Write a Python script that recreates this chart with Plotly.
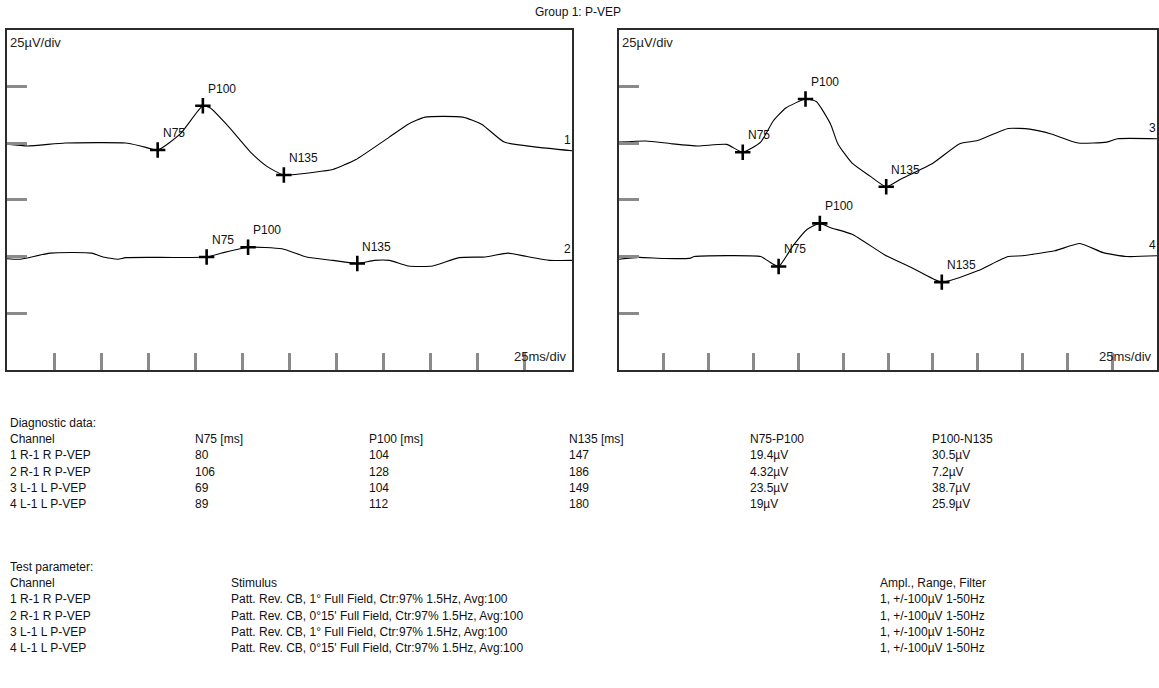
import numpy as np
import plotly.graph_objects as go

# ---------------- data ----------------
# waveform samples: time [ms], amplitude [uV] relative to channel baseline
ch1_t = [0, 11, 31, 63, 71, 80, 92, 104, 108, 118, 130, 138, 147, 163, 173, 185, 203, 213, 222, 242, 252, 264, 280, 300]
ch1_v = [-0.5, -1.3, 0, 0, -1.3, -3.1, 4, 16.4, 15.4, 6.9, -4.6, -10.3, -14.1, -12.9, -11.7, -7.4, 2.6, 8.3, 11.4, 11.4, 8.3, 0.4, -1.7, -3.4]

ch2_t = [0, 7, 23, 45, 51, 59, 63, 106, 114, 128, 146, 159, 173, 186, 195, 203, 213, 226, 240, 254, 266, 276, 288, 300]
ch2_v = [-1, -1.2, 1.5, 1.5, -0.2, -1.2, -0.5, -0.2, 1.5, 4.1, 3.4, -0.2, -1.7, -3.1, -1.7, -1.7, -4.2, -4.2, -0.5, -0.2, 1.5, 0, -1.7, -1.7]

ch3_t = [0, 15, 29, 44, 60, 69, 79, 86, 93, 104, 110, 118, 122, 130, 140, 149, 157, 175, 190, 200, 217, 229, 241, 256, 272, 278, 300]
ch3_v = [0.4, 0.9, -0.3, -1.3, -0.6, -4.1, 0.4, 9.7, 15.4, 19.4, 18.3, 8.3, -0.3, -8.9, -14.6, -19.3, -16, -8.9, -0.3, 1.1, 6.4, 6.1, 4, 0, 0.4, 1.9, 1.9]

ch4_t = [0, 11, 25, 40, 42, 79, 83, 89, 97, 105, 112, 118, 130, 149, 163, 180, 200, 217, 225, 243, 257, 270, 283, 300]
ch4_v = [-1.2, -0.4, -0.9, -0.7, 0, 0, -1.9, -4.4, 4.7, 12, 14.6, 12.7, 9.8, 0.3, -4.8, -11.3, -6.3, 0, 0.3, 2.5, 5.7, 1.7, 0, 0.3]

# diagnostic table
channels = ["1 R-1 R P-VEP", "2 R-1 R P-VEP", "3 L-1 L P-VEP", "4 L-1 L P-VEP"]
n75_ms = [80, 106, 69, 89]
p100_ms = [104, 128, 104, 112]
n135_ms = [147, 186, 149, 180]
n75_p100 = ["19.4µV", "4.32µV", "23.5µV", "19µV"]
p100_n135 = ["30.5µV", "7.2µV", "38.7µV", "25.9µV"]
diag_headers = ["Channel", "N75 [ms]", "P100 [ms]", "N135 [ms]", "N75-P100", "P100-N135"]

# test parameters
stimulus = [
    "Patt. Rev. CB, 1° Full Field, Ctr:97% 1.5Hz, Avg:100",
    "Patt. Rev. CB, 0°15' Full Field, Ctr:97% 1.5Hz, Avg:100",
    "Patt. Rev. CB, 1° Full Field, Ctr:97% 1.5Hz, Avg:100",
    "Patt. Rev. CB, 0°15' Full Field, Ctr:97% 1.5Hz, Avg:100",
]
ampl = ["1, +/-100µV 1-50Hz"] * 4
test_headers = ["Channel", "Stimulus", "Ampl., Range, Filter"]

peak_names = ["N75", "P100", "N135"]
x_ticks = [25 * i for i in range(1, 13)]
y_ticks = [25, 50, 75, 100, 125]

# ---------------- layout helpers ----------------
W, H = 1159, 688
FONT = "Liberation Sans, Arial, sans-serif"
TXT = "#111111"


def px(x):
    return x / W


def py(y):
    return 1 - y / H


fig = go.Figure()

panels = [
    ("x", "y", [(ch1_t, ch1_v, 0, "1", 100), (ch2_t, ch2_v, 1, "2", 50)]),
    ("x2", "y2", [(ch3_t, ch3_v, 2, "3", 100), (ch4_t, ch4_v, 3, "4", 50)]),
]

annotations = []
for xa, ya, chans in panels:
    for t, v, ci, lab, off in chans:
        t = np.array(t, float)
        v = np.array(v, float)
        fig.add_trace(go.Scatter(x=t, y=v + off, mode="lines", xaxis=xa, yaxis=ya,
                                 line=dict(color="#000000", width=1.1, shape="spline", smoothing=0.5),
                                 hoverinfo="skip", showlegend=False))
        lat = [n75_ms[ci], p100_ms[ci], n135_ms[ci]]
        amp = np.interp(lat, t, v) + off
        fig.add_trace(go.Scatter(x=lat, y=amp, mode="markers", xaxis=xa, yaxis=ya,
                                 marker=dict(symbol="cross-thin", size=11,
                                             line=dict(color="#000000", width=2.6)),
                                 hoverinfo="skip", showlegend=False))
        for name, lx, ly in zip(peak_names, lat, amp):
            annotations.append(dict(x=lx, y=ly, xref=xa, yref=ya, text=name, showarrow=False,
                                    xanchor="left", yanchor="middle", xshift=3, yshift=17,
                                    font=dict(family=FONT, size=12, color=TXT)))
        annotations.append(dict(x=300, y=v[-1] + off, xref=xa, yref=ya, text=lab, showarrow=False,
                                xanchor="right", yanchor="middle", xshift=1, yshift=11,
                                font=dict(family=FONT, size=12, color=TXT)))
    annotations.append(dict(x=0, y=1, xref=f"{xa} domain", yref=f"{ya} domain", text="25µV/div",
                            showarrow=False, xanchor="left", yanchor="top", xshift=1, yshift=-3,
                            font=dict(family=FONT, size=13, color="#222222")))
    annotations.append(dict(x=1, y=0, xref=f"{xa} domain", yref=f"{ya} domain", text="25ms/div",
                            showarrow=False, xanchor="right", yanchor="bottom", xshift=-3, yshift=4,
                            font=dict(family=FONT, size=13, color="#222222")))

# title
annotations.append(dict(x=px(578), y=py(12), xref="paper", yref="paper", text="Group 1: P-VEP",
                        showarrow=False, xanchor="center", yanchor="middle",
                        font=dict(family=FONT, size=12, color=TXT)))


def txt(x, y, s):
    annotations.append(dict(x=px(x), y=py(y), xref="paper", yref="paper", text=s, showarrow=False,
                            xanchor="left", yanchor="middle",
                            font=dict(family=FONT, size=12, color=TXT)))


# diagnostic table
diag_x = [8, 193, 367, 567, 748, 930]
row_h = 16.2
txt(8, 423, "Diagnostic data:")
for cx, h in zip(diag_x, diag_headers):
    txt(cx, 423 + row_h, h)
for i in range(4):
    yy = 423 + row_h * (i + 2)
    vals = [channels[i], str(n75_ms[i]), str(p100_ms[i]), str(n135_ms[i]), n75_p100[i], p100_n135[i]]
    for cx, s in zip(diag_x, vals):
        txt(cx, yy, s)

# test parameter table
test_x = [8, 229, 878]
txt(8, 567, "Test parameter:")
for cx, h in zip(test_x, test_headers):
    txt(cx, 567 + row_h, h)
for i in range(4):
    yy = 567 + row_h * (i + 2)
    for cx, s in zip(test_x, [channels[i], stimulus[i], ampl[i]]):
        txt(cx, yy, s)

axis_common = dict(showline=True, mirror=True, linewidth=2, linecolor="#2b2b2b",
                   showgrid=False, zeroline=False, showticklabels=False,
                   ticks="inside", tickcolor="#8a8a8a", tickwidth=2.5, fixedrange=True)

ydom = [py(370), py(29.5)]
fig.update_layout(
    width=W, height=H, autosize=False,
    margin=dict(l=0, r=0, t=0, b=0),
    paper_bgcolor="white", plot_bgcolor="white",
    showlegend=False,
    xaxis=dict(domain=[px(7), px(572)], range=[0, 300], tickvals=x_ticks, ticklen=17, anchor="y", **axis_common),
    yaxis=dict(domain=ydom, range=[0, 150], tickvals=y_ticks, ticklen=20, anchor="x", **axis_common),
    xaxis2=dict(domain=[px(619), px(1157)], range=[0, 300], tickvals=x_ticks, ticklen=17, anchor="y2", **axis_common),
    yaxis2=dict(domain=ydom, range=[0, 150], tickvals=y_ticks, ticklen=20, anchor="x2", **axis_common),
    annotations=annotations,
)

fig.write_html(
    "out.html",
    config={"displayModeBar": False},
    post_script="document.body.style.margin='0px';document.body.style.padding='0px';document.body.style.overflow='hidden';",
)
